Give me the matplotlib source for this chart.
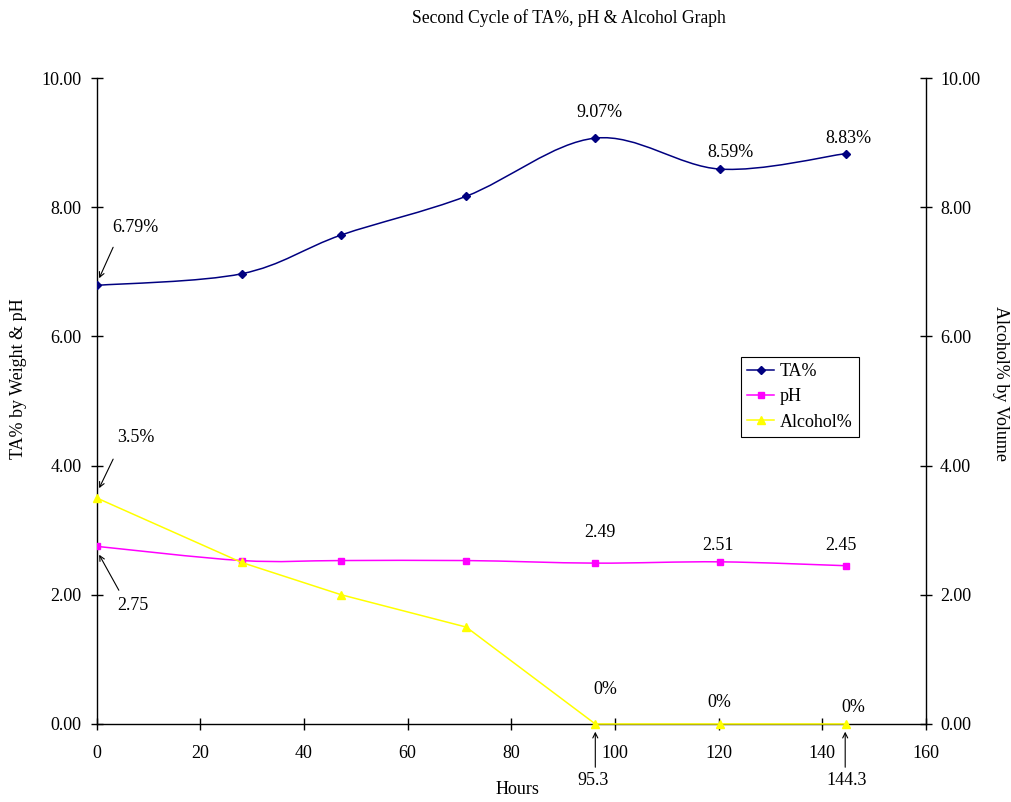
import numpy as np
import matplotlib
matplotlib.use("Agg")
import matplotlib.pyplot as plt
from matplotlib.path import Path
from matplotlib.patches import PathPatch
from matplotlib.lines import Line2D
from matplotlib.ticker import FormatStrFormatter

plt.rcParams['font.family'] = ['Liberation Serif', 'DejaVu Serif']
plt.rcParams['font.size'] = 13

# data
hours = [0, 28, 47.2, 71.3, 96.2, 120.3, 144.5]
ta = [6.79, 6.97, 7.57, 8.17, 9.07, 8.59, 8.83]
ph = [2.75, 2.53, 2.53, 2.53, 2.49, 2.51, 2.45]
alcohol = [3.5, 2.5, 2.0, 1.5, 0, 0, 0]

ta_labels = ["9.07%", "8.59%", "8.83%"]
ph_labels = ["2.49", "2.51", "2.45"]
alc_labels = ["0%", "0%", "0%"]

navy = "#000080"
magenta = "#FF00FF"
yellow = "#FFFF00"


def smooth_path(xs, ys):
    # excel style smoothed line: bezier segments with catmull-rom control points
    pts = np.column_stack([xs, ys]).astype(float)
    ext = np.vstack([pts[0], pts, pts[-1]])
    verts = [tuple(pts[0])]
    codes = [Path.MOVETO]
    for i in range(1, len(ext) - 2):
        p0, p1, p2, p3 = ext[i - 1], ext[i], ext[i + 1], ext[i + 2]
        c1 = p1 + (p2 - p0) / 6.0
        c2 = p2 - (p3 - p1) / 6.0
        verts += [tuple(c1), tuple(c2), tuple(p2)]
        codes += [Path.CURVE4] * 3
    return Path(verts, codes)


fig = plt.figure(figsize=(10.11, 8.02), dpi=100)
ax = fig.add_axes([0.0955, 0.0973, 0.8205, 0.8054])

ax.add_patch(PathPatch(smooth_path(hours, ta), fill=False, edgecolor=navy, lw=1.1, zorder=3))
ax.plot(hours, ta, linestyle="none", marker="D", ms=4.5, color=navy, zorder=4)
ax.add_patch(PathPatch(smooth_path(hours, ph), fill=False, edgecolor=magenta, lw=1.1, zorder=3))
ax.plot(hours, ph, linestyle="none", marker="s", ms=5, color=magenta, zorder=4)
ax.plot(hours, alcohol, color=yellow, lw=1.1, marker="^", ms=5.5, zorder=5, clip_on=False)

ax.set_xlim(0, 160)
ax.set_ylim(0, 10)
ax.set_xticks(np.arange(0, 161, 20))
ax.set_yticks(np.arange(0, 10.1, 2))
ax.yaxis.set_major_formatter(FormatStrFormatter('%.2f'))
ax.spines['top'].set_visible(False)
ax.spines['right'].set_visible(False)
for s in ['left', 'bottom']:
    ax.spines[s].set_linewidth(1.0)
ax.tick_params(axis='x', direction='inout', length=8, width=1, pad=11)
ax.tick_params(axis='y', direction='inout', length=8, width=1, pad=7)

ax2 = ax.twinx()
ax2.set_ylim(0, 10)
ax2.set_yticks(np.arange(0, 10.1, 2))
ax2.yaxis.set_major_formatter(FormatStrFormatter('%.2f'))
for s in ['top', 'left', 'bottom']:
    ax2.spines[s].set_visible(False)
ax2.spines['right'].set_linewidth(1.0)
ax2.tick_params(axis='y', direction='inout', length=8, width=1, pad=6)

# value labels
ax.text(97.0, 9.46, ta_labels[0], ha='center', va='center')
ax.text(122.3, 8.85, ta_labels[1], ha='center', va='center')
ax.text(145.1, 9.07, ta_labels[2], ha='center', va='center')
ax.text(97.1, 2.96, ph_labels[0], ha='center', va='center')
ax.text(119.9, 2.76, ph_labels[1], ha='center', va='center')
ax.text(143.6, 2.76, ph_labels[2], ha='center', va='center')
ax.text(98.1, 0.54, alc_labels[0], ha='center', va='center')
ax.text(120.2, 0.34, alc_labels[1], ha='center', va='center')
ax.text(146.0, 0.26, alc_labels[2], ha='center', va='center')

arrow = dict(arrowstyle='->', lw=0.8, color='black', shrinkA=0, shrinkB=0, mutation_scale=9)
ax.text(7.4, 7.69, "6.79%", ha='center', va='center')
ax.annotate("", xy=(0.5, 6.9), xytext=(3.2, 7.38), arrowprops=arrow)
ax.text(7.5, 4.43, "3.5%", ha='center', va='center')
ax.annotate("", xy=(0.5, 3.65), xytext=(3.2, 4.10), arrowprops=arrow)
ax.text(6.95, 1.83, "2.75", ha='center', va='center')
ax.annotate("", xy=(0.5, 2.62), xytext=(4.3, 2.07), arrowprops=arrow)
ax.text(95.8, -0.87, "95.3", ha='center', va='center', clip_on=False)
ax.annotate("", xy=(96.2, -0.12), xytext=(96.2, -0.67), arrowprops=arrow, annotation_clip=False)
ax.text(144.6, -0.87, "144.3", ha='center', va='center', clip_on=False)
ax.annotate("", xy=(144.4, -0.12), xytext=(144.4, -0.67), arrowprops=arrow, annotation_clip=False)

fig.text(569 / 1011, 1 - 18 / 802, "Second Cycle of TA%, pH & Alcohol Graph", ha='center', va='center', fontsize=12.7)
fig.text(517 / 1011, 1 - 790 / 802, "Hours", ha='center', va='center')
fig.text(19 / 1011, 1 - 379 / 802, "TA% by Weight & pH", ha='center', va='center', rotation=90)
fig.text(1000 / 1011, 1 - 384 / 802, "Alcohol% by Volume", ha='center', va='center', rotation=270)

handles = [
    Line2D([], [], color=navy, marker="D", ms=4.5, lw=1.1),
    Line2D([], [], color=magenta, marker="s", ms=5, lw=1.1),
    Line2D([], [], color=yellow, marker="^", ms=5.5, lw=1.1),
]
leg = fig.legend(handles, ["TA%", "pH", "Alcohol%"], loc='upper left',
                 bbox_to_anchor=(741 / 1011, 1 - 357 / 802), frameon=True, fancybox=False,
                 edgecolor='black', framealpha=1, handlelength=1.5, handletextpad=0.3,
                 borderpad=0.35, labelspacing=0.45, borderaxespad=0)
leg.get_frame().set_linewidth(0.8)

fig.savefig("out.png", dpi=100)
